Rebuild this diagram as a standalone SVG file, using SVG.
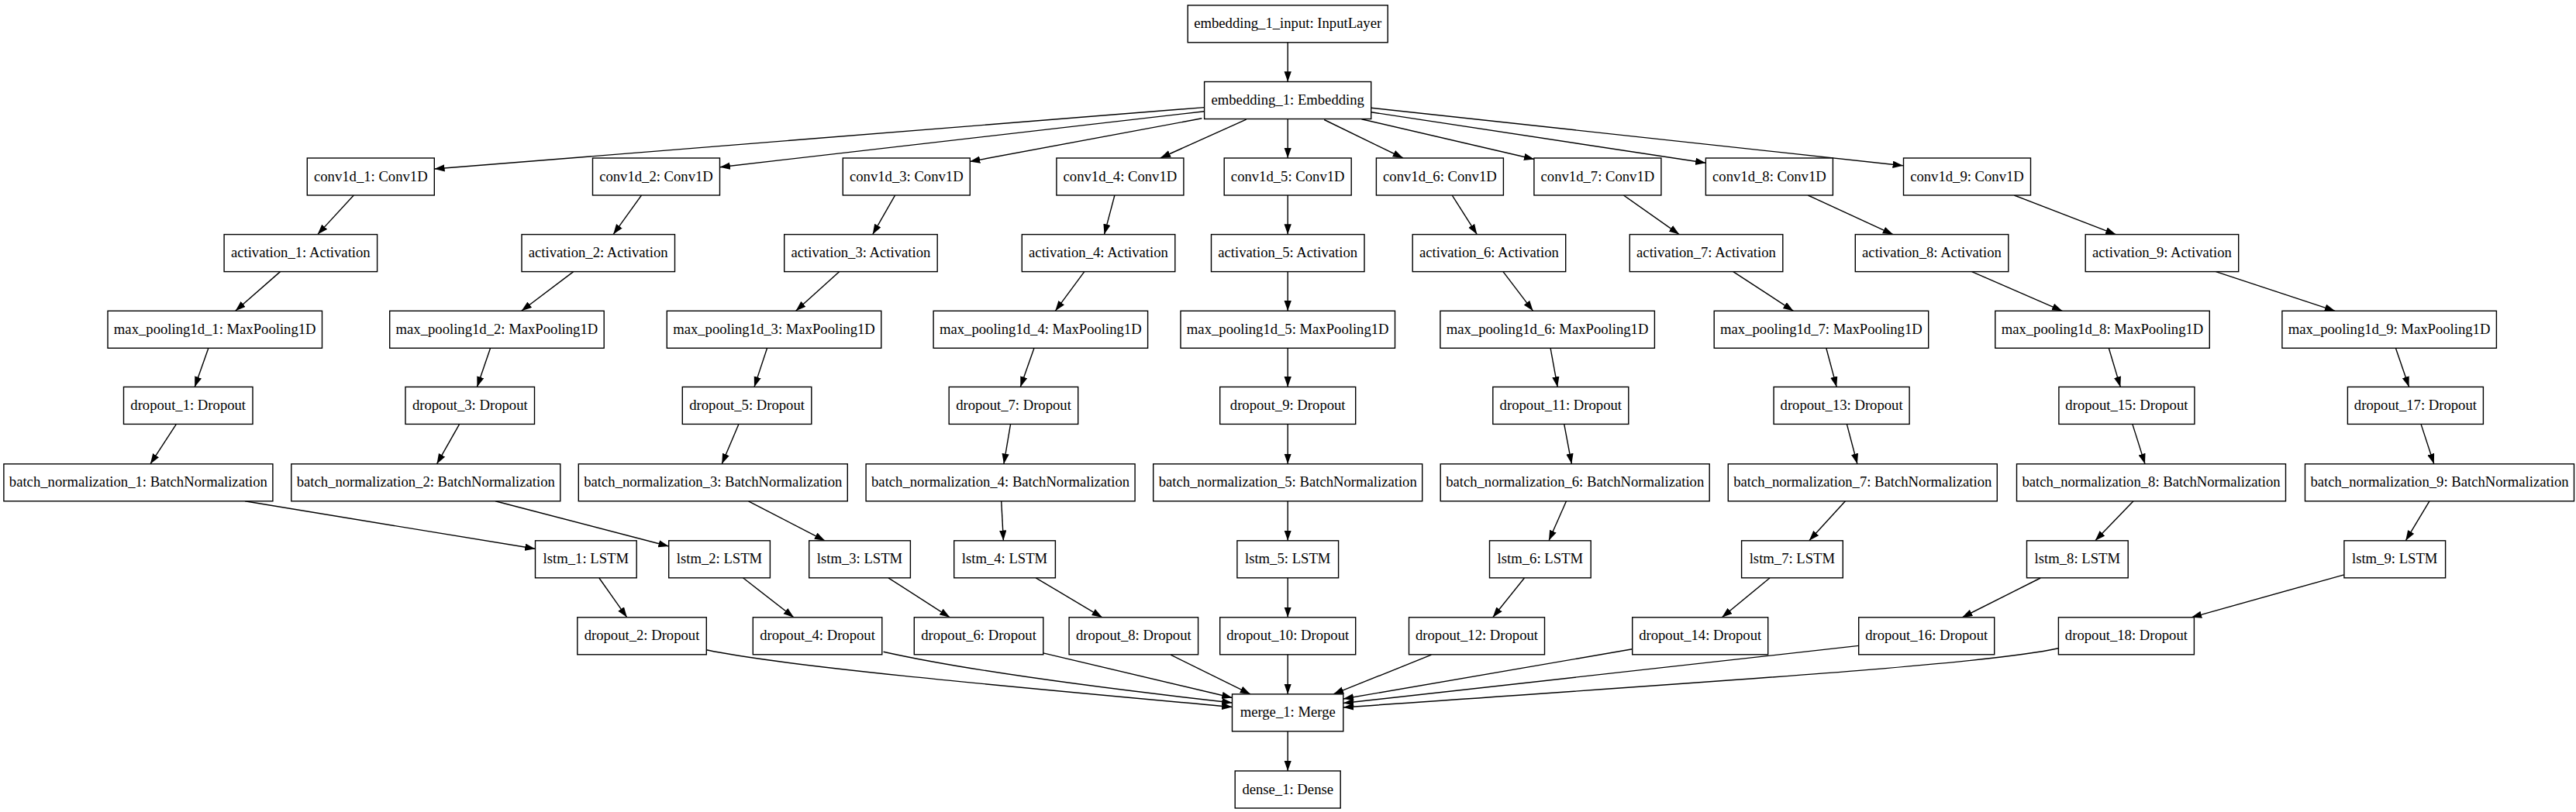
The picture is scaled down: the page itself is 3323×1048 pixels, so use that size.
<svg xmlns="http://www.w3.org/2000/svg" width="3323" height="1048" viewBox="0 0 3323 1048">
<defs>
<style>
.n rect{fill:#fff;stroke:#000;stroke-width:1.4}
.n text{font-family:"Liberation Serif","Times New Roman",serif;font-size:18.67px;text-anchor:middle;fill:#000}
.e path{fill:none;stroke:#000;stroke-width:1.4;marker-end:url(#ah)}
</style>
<marker id="ah" markerUnits="userSpaceOnUse" markerWidth="14" markerHeight="10" refX="13.3" refY="4.67" orient="auto"><path d="M0,0 L13.3,4.67 L0,9.33 z" fill="#000"/></marker>
</defs>
<rect width="3323" height="1048" fill="#fff"/>
<g id="edges" class="e">
<path d="M1661.2,54.8 L1661.2,105.5"/>
<path d="M1553.6,138.6 L560.3,218"/>
<path d="M1553.6,143.7 L928.6,215.7"/>
<path d="M1550.4,152.8 L1251,208.6"/>
<path d="M1607.7,154.2 L1496.8,204"/>
<path d="M1661.2,153.5 L1661.2,204"/>
<path d="M1708.2,154.5 L1810,204"/>
<path d="M1756.4,153.8 L1979.2,205.5"/>
<path d="M1768.7,144.7 L2200.4,210.3"/>
<path d="M1768.7,139.3 L2454.9,213.7"/>
<!-- column 1 -->
<path d="M456.3,252 L409.7,302.6"/>
<path d="M361.5,350.6 L303.7,401.3"/>
<path d="M268.9,449.3 L251.2,499.4"/>
<path d="M227.1,547.9 L193.9,598.8"/>
<path d="M316,646.8 L690.4,708.3"/>
<path d="M772.9,746 L808.8,796.8"/>
<!-- column 2 -->
<path d="M827.5,252 L791.1,302.6"/>
<path d="M739.7,350.6 L672.7,401.3"/>
<path d="M632.6,449.3 L615.4,499.4"/>
<path d="M592.4,547.9 L563.5,598.8"/>
<path d="M639,646.8 L862.7,705"/>
<path d="M958.5,745.8 L1023.9,796.8"/>
<!-- column 3 -->
<path d="M1154.6,252 L1125.7,302.6"/>
<path d="M1082.8,350.6 L1026.6,401.3"/>
<path d="M989.6,449.3 L973,499.4"/>
<path d="M952.7,547.9 L931.2,598.8"/>
<path d="M965.5,646.8 L1064.1,697.8"/>
<path d="M1146,745.8 L1225.3,796.8"/>
<!-- column 4 -->
<path d="M1437.9,252 L1424.5,302.6"/>
<path d="M1398.8,350.6 L1361.3,401.3"/>
<path d="M1334,449.3 L1316.3,499.4"/>
<path d="M1303.5,547.9 L1294.9,598.8"/>
<path d="M1291.7,646.8 L1294.4,697.8"/>
<path d="M1336.2,745.8 L1421.8,796.8"/>
<!-- column 5 -->
<path d="M1661.2,252 L1661.2,302.6"/>
<path d="M1661.2,350.6 L1661.2,401.3"/>
<path d="M1661.2,449.3 L1661.2,499.4"/>
<path d="M1661.2,547.9 L1661.2,598.8"/>
<path d="M1661.2,646.8 L1661.2,697.8"/>
<path d="M1661.2,745.8 L1661.2,796.8"/>
<!-- column 6 -->
<path d="M1873.2,252 L1905.3,302.6"/>
<path d="M1939,350.6 L1977.6,401.3"/>
<path d="M2000.1,449.3 L2009.2,499.4"/>
<path d="M2017.8,547.9 L2027.4,598.8"/>
<path d="M2020.5,646.8 L1998,697.8"/>
<path d="M1966.4,746 L1925.7,796.8"/>
<!-- column 7 -->
<path d="M2094.4,252 L2166.2,302.6"/>
<path d="M2235.8,350.6 L2313.4,401.3"/>
<path d="M2355.8,449.3 L2369.2,499.4"/>
<path d="M2382.5,547.9 L2395.9,598.8"/>
<path d="M2380.4,646.8 L2333.8,697.8"/>
<path d="M2282.9,746 L2221.3,796.8"/>
<!-- column 8 -->
<path d="M2332.2,252 L2442,302.6"/>
<path d="M2543.6,350.6 L2660.3,401.3"/>
<path d="M2720.3,449.3 L2735.3,499.4"/>
<path d="M2751,547.9 L2767,598.8"/>
<path d="M2752,646.8 L2702.8,697.8"/>
<path d="M2632.2,746 L2531.2,796.8"/>
<!-- column 9 -->
<path d="M2598.2,252 L2729.4,302.6"/>
<path d="M2858.5,350.6 L3012.2,401.3"/>
<path d="M3090.4,449.3 L3107.6,499.4"/>
<path d="M3123.2,547.9 L3139.8,598.8"/>
<path d="M3133.9,646.8 L3103.3,697.8"/>
<path d="M3023.7,741.8 L2826.9,796.8"/>
<!-- into merge -->
<path d="M911.4,838.8 C1010,860 1300,886 1589.5,912.5"/>
<path d="M1139.6,841.2 C1250,866 1420,888 1589.5,907"/>
<path d="M1345.8,842.9 L1589.5,900.5"/>
<path d="M1510.2,845.2 L1613,895.9"/>
<path d="M1661.2,844.8 L1661.2,895.9"/>
<path d="M1846.4,845.2 L1720,895.9"/>
<path d="M2105.6,837.8 L1732.8,902"/>
<path d="M2397.6,833.4 L1732.8,907.5"/>
<path d="M2655.2,836.8 C2560,858 2200,880 1732.8,913"/>
<path d="M1661.2,943.9 L1661.2,995"/>
</g>
<g id="embedding_1_input" class="n"><rect x="1532.2" y="6.8" width="258" height="48"/><text x="1661.2" y="36.3">embedding_1_input: InputLayer</text></g>
<g id="embedding_1" class="n"><rect x="1553.6" y="105.5" width="215.1" height="48"/><text x="1661.2" y="135">embedding_1: Embedding</text></g>
<g id="conv1d_1" class="n"><rect x="396.3" y="204" width="164" height="48"/><text x="478.3" y="233.5">conv1d_1: Conv1D</text></g>
<g id="conv1d_2" class="n"><rect x="764.5" y="204" width="164" height="48"/><text x="846.5" y="233.5">conv1d_2: Conv1D</text></g>
<g id="conv1d_3" class="n"><rect x="1087.3" y="204" width="164" height="48"/><text x="1169.3" y="233.5">conv1d_3: Conv1D</text></g>
<g id="conv1d_4" class="n"><rect x="1362.9" y="204" width="164" height="48"/><text x="1444.9" y="233.5">conv1d_4: Conv1D</text></g>
<g id="conv1d_5" class="n"><rect x="1579.2" y="204" width="164" height="48"/><text x="1661.2" y="233.5">conv1d_5: Conv1D</text></g>
<g id="conv1d_6" class="n"><rect x="1775.4" y="204" width="164" height="48"/><text x="1857.4" y="233.5">conv1d_6: Conv1D</text></g>
<g id="conv1d_7" class="n"><rect x="1978.9" y="204" width="164" height="48"/><text x="2060.9" y="233.5">conv1d_7: Conv1D</text></g>
<g id="conv1d_8" class="n"><rect x="2200.4" y="204" width="164" height="48"/><text x="2282.4" y="233.5">conv1d_8: Conv1D</text></g>
<g id="conv1d_9" class="n"><rect x="2455.5" y="204" width="164" height="48"/><text x="2537.5" y="233.5">conv1d_9: Conv1D</text></g>
<g id="activation_1" class="n"><rect x="289.1" y="302.6" width="197.5" height="48"/><text x="387.8" y="332.1">activation_1: Activation</text></g>
<g id="activation_2" class="n"><rect x="673" y="302.6" width="197.5" height="48"/><text x="771.7" y="332.1">activation_2: Activation</text></g>
<g id="activation_3" class="n"><rect x="1011.7" y="302.6" width="197.5" height="48"/><text x="1110.4" y="332.1">activation_3: Activation</text></g>
<g id="activation_4" class="n"><rect x="1318.3" y="302.6" width="197.5" height="48"/><text x="1417" y="332.1">activation_4: Activation</text></g>
<g id="activation_5" class="n"><rect x="1562.5" y="302.6" width="197.5" height="48"/><text x="1661.2" y="332.1">activation_5: Activation</text></g>
<g id="activation_6" class="n"><rect x="1822.2" y="302.6" width="197.5" height="48"/><text x="1920.9" y="332.1">activation_6: Activation</text></g>
<g id="activation_7" class="n"><rect x="2102.3" y="302.6" width="197.5" height="48"/><text x="2201" y="332.1">activation_7: Activation</text></g>
<g id="activation_8" class="n"><rect x="2393.3" y="302.6" width="197.5" height="48"/><text x="2492" y="332.1">activation_8: Activation</text></g>
<g id="activation_9" class="n"><rect x="2690.2" y="302.6" width="197.5" height="48"/><text x="2788.9" y="332.1">activation_9: Activation</text></g>
<g id="max_pooling1d_1" class="n"><rect x="139" y="401.3" width="276.5" height="48"/><text x="277.2" y="430.8">max_pooling1d_1: MaxPooling1D</text></g>
<g id="max_pooling1d_2" class="n"><rect x="502.7" y="401.3" width="276.5" height="48"/><text x="640.9" y="430.8">max_pooling1d_2: MaxPooling1D</text></g>
<g id="max_pooling1d_3" class="n"><rect x="860.3" y="401.3" width="276.5" height="48"/><text x="998.5" y="430.8">max_pooling1d_3: MaxPooling1D</text></g>
<g id="max_pooling1d_4" class="n"><rect x="1204.1" y="401.3" width="276.5" height="48"/><text x="1342.3" y="430.8">max_pooling1d_4: MaxPooling1D</text></g>
<g id="max_pooling1d_5" class="n"><rect x="1523" y="401.3" width="276.5" height="48"/><text x="1661.2" y="430.8">max_pooling1d_5: MaxPooling1D</text></g>
<g id="max_pooling1d_6" class="n"><rect x="1857.9" y="401.3" width="276.5" height="48"/><text x="1996.1" y="430.8">max_pooling1d_6: MaxPooling1D</text></g>
<g id="max_pooling1d_7" class="n"><rect x="2211.2" y="401.3" width="276.5" height="48"/><text x="2349.4" y="430.8">max_pooling1d_7: MaxPooling1D</text></g>
<g id="max_pooling1d_8" class="n"><rect x="2573.8" y="401.3" width="276.5" height="48"/><text x="2712" y="430.8">max_pooling1d_8: MaxPooling1D</text></g>
<g id="max_pooling1d_9" class="n"><rect x="2943.9" y="401.3" width="276.5" height="48"/><text x="3082.1" y="430.8">max_pooling1d_9: MaxPooling1D</text></g>
<g id="dropout_1" class="n"><rect x="159.5" y="499.4" width="166.5" height="48"/><text x="242.7" y="528.9">dropout_1: Dropout</text></g>
<g id="dropout_3" class="n"><rect x="523" y="499.4" width="166.5" height="48"/><text x="606.3" y="528.9">dropout_3: Dropout</text></g>
<g id="dropout_5" class="n"><rect x="880.3" y="499.4" width="166.5" height="48"/><text x="963.6" y="528.9">dropout_5: Dropout</text></g>
<g id="dropout_7" class="n"><rect x="1224.2" y="499.4" width="166.5" height="48"/><text x="1307.5" y="528.9">dropout_7: Dropout</text></g>
<g id="dropout_9" class="n"><rect x="1573.7" y="499.4" width="175" height="48"/><text x="1661.2" y="528.9">dropout_9: Dropout</text></g>
<g id="dropout_11" class="n"><rect x="1925.8" y="499.4" width="175" height="48"/><text x="2013.3" y="528.9">dropout_11: Dropout</text></g>
<g id="dropout_13" class="n"><rect x="2288.1" y="499.4" width="175" height="48"/><text x="2375.6" y="528.9">dropout_13: Dropout</text></g>
<g id="dropout_15" class="n"><rect x="2655.9" y="499.4" width="175" height="48"/><text x="2743.4" y="528.9">dropout_15: Dropout</text></g>
<g id="dropout_17" class="n"><rect x="3028.4" y="499.4" width="175" height="48"/><text x="3115.9" y="528.9">dropout_17: Dropout</text></g>
<g id="batch_normalization_1" class="n"><rect x="4.9" y="598.8" width="347" height="48"/><text x="178.4" y="628.3">batch_normalization_1: BatchNormalization</text></g>
<g id="batch_normalization_2" class="n"><rect x="375.8" y="598.8" width="347" height="48"/><text x="549.3" y="628.3">batch_normalization_2: BatchNormalization</text></g>
<g id="batch_normalization_3" class="n"><rect x="746.3" y="598.8" width="347" height="48"/><text x="919.8" y="628.3">batch_normalization_3: BatchNormalization</text></g>
<g id="batch_normalization_4" class="n"><rect x="1117.1" y="598.8" width="347" height="48"/><text x="1290.6" y="628.3">batch_normalization_4: BatchNormalization</text></g>
<g id="batch_normalization_5" class="n"><rect x="1487.7" y="598.8" width="347" height="48"/><text x="1661.2" y="628.3">batch_normalization_5: BatchNormalization</text></g>
<g id="batch_normalization_6" class="n"><rect x="1858.2" y="598.8" width="347" height="48"/><text x="2031.7" y="628.3">batch_normalization_6: BatchNormalization</text></g>
<g id="batch_normalization_7" class="n"><rect x="2229.3" y="598.8" width="347" height="48"/><text x="2402.8" y="628.3">batch_normalization_7: BatchNormalization</text></g>
<g id="batch_normalization_8" class="n"><rect x="2601.5" y="598.8" width="347" height="48"/><text x="2775" y="628.3">batch_normalization_8: BatchNormalization</text></g>
<g id="batch_normalization_9" class="n"><rect x="2973.5" y="598.8" width="347" height="48"/><text x="3147" y="628.3">batch_normalization_9: BatchNormalization</text></g>
<g id="lstm_1" class="n"><rect x="690.5" y="697.8" width="130.7" height="48"/><text x="755.8" y="727.3">lstm_1: LSTM</text></g>
<g id="lstm_2" class="n"><rect x="862.7" y="697.8" width="130.7" height="48"/><text x="928" y="727.3">lstm_2: LSTM</text></g>
<g id="lstm_3" class="n"><rect x="1043.7" y="697.8" width="130.7" height="48"/><text x="1109" y="727.3">lstm_3: LSTM</text></g>
<g id="lstm_4" class="n"><rect x="1230.7" y="697.8" width="130.7" height="48"/><text x="1296" y="727.3">lstm_4: LSTM</text></g>
<g id="lstm_5" class="n"><rect x="1595.9" y="697.8" width="130.7" height="48"/><text x="1661.2" y="727.3">lstm_5: LSTM</text></g>
<g id="lstm_6" class="n"><rect x="1921.5" y="697.8" width="130.7" height="48"/><text x="1986.8" y="727.3">lstm_6: LSTM</text></g>
<g id="lstm_7" class="n"><rect x="2246.6" y="697.8" width="130.7" height="48"/><text x="2311.9" y="727.3">lstm_7: LSTM</text></g>
<g id="lstm_8" class="n"><rect x="2614.5" y="697.8" width="130.7" height="48"/><text x="2679.8" y="727.3">lstm_8: LSTM</text></g>
<g id="lstm_9" class="n"><rect x="3023.9" y="697.8" width="130.7" height="48"/><text x="3089.2" y="727.3">lstm_9: LSTM</text></g>
<g id="dropout_2" class="n"><rect x="744.8" y="796.8" width="166.5" height="48"/><text x="828" y="826.3">dropout_2: Dropout</text></g>
<g id="dropout_4" class="n"><rect x="971.3" y="796.8" width="166.5" height="48"/><text x="1054.5" y="826.3">dropout_4: Dropout</text></g>
<g id="dropout_6" class="n"><rect x="1179.3" y="796.8" width="166.5" height="48"/><text x="1262.5" y="826.3">dropout_6: Dropout</text></g>
<g id="dropout_8" class="n"><rect x="1379.1" y="796.8" width="166.5" height="48"/><text x="1462.3" y="826.3">dropout_8: Dropout</text></g>
<g id="dropout_10" class="n"><rect x="1573.7" y="796.8" width="175" height="48"/><text x="1661.2" y="826.3">dropout_10: Dropout</text></g>
<g id="dropout_12" class="n"><rect x="1817.5" y="796.8" width="175" height="48"/><text x="1905" y="826.3">dropout_12: Dropout</text></g>
<g id="dropout_14" class="n"><rect x="2105.7" y="796.8" width="175" height="48"/><text x="2193.2" y="826.3">dropout_14: Dropout</text></g>
<g id="dropout_16" class="n"><rect x="2397.7" y="796.8" width="175" height="48"/><text x="2485.2" y="826.3">dropout_16: Dropout</text></g>
<g id="dropout_18" class="n"><rect x="2655.4" y="796.8" width="175" height="48"/><text x="2742.9" y="826.3">dropout_18: Dropout</text></g>
<g id="merge_1" class="n"><rect x="1589.5" y="895.9" width="143.3" height="48"/><text x="1661.2" y="925.4">merge_1: Merge</text></g>
<g id="dense_1" class="n"><rect x="1593.2" y="995" width="136" height="48"/><text x="1661.2" y="1024.5">dense_1: Dense</text></g>
</svg>
